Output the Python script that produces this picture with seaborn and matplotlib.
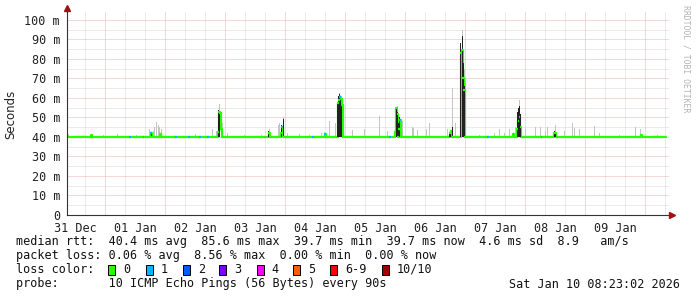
import matplotlib
matplotlib.use("Agg")
import matplotlib.pyplot as plt
import seaborn as sns
import pandas as pd
from matplotlib.patches import Rectangle

# ---------------- data (hours since 31 Dec 00:00, values in ms) ----------------
day_labels = ["31 Dec", "01 Jan", "02 Jan", "03 Jan", "04 Jan",
              "05 Jan", "06 Jan", "07 Jan", "08 Jan", "09 Jan"]

# median rtt (step series)
med_t = [8.8, 18.4, 18.8, 42.4, 42.8, 46.0, 46.4, 69.2, 69.6, 70.0, 70.4, 70.8,
         89.6, 90.0, 94.4, 94.8, 95.2, 112.0, 112.4, 117.2, 117.6, 118.0, 118.4,
         118.8, 119.2, 140.0, 140.4, 140.8, 141.2, 141.6, 142.0, 142.4, 162.0,
         162.4, 162.8, 166.4, 166.8, 167.2, 167.6, 168.0, 187.2, 187.6, 188.8,
         189.2, 189.6, 190.0, 190.4, 203.6, 204.0, 204.4, 238.4, 238.8, 248.4]
med_v = [40.0, 40.8, 40.0, 41.8, 40.0, 41.3, 40.0, 42.5, 53.0, 52.5, 44.0, 40.0,
         42.0, 40.0, 42.0, 45.0, 40.0, 41.5, 40.0, 57.6, 59.0, 60.7, 59.5,
         56.4, 40.0, 42.7, 55.0, 52.0, 40.0, 44.0, 48.7, 40.0, 42.0,
         43.0, 40.0, 83.0, 84.5, 70.0, 64.0, 40.0, 41.5, 40.0, 44.0,
         48.0, 50.4, 45.0, 40.0, 42.0, 42.0, 40.0, 41.0, 40.0, 40.0]

# median points with 1/10 packet loss (blue)
loss1_t = [18.4, 34.0, 39.2, 42.4, 52.4, 57.6, 62.0, 65.2, 94.8, 107.2, 112.0,
           118.0, 138.0, 142.0, 177.2, 187.2, 189.6, 198.4]
loss1_v = [40.0, 40.0, 40.0, 41.8, 40.0, 40.0, 40.0, 40.0, 45.0, 40.0, 41.5,
           60.7, 40.0, 48.7, 40.0, 41.5, 50.4, 40.0]

# light smoke (outer ping spread): top value
smoke_t = [9.2, 23.2, 29.2, 36.8, 42.0, 43.2, 44.0, 44.8, 45.6, 46.0, 46.8,
           60.4, 67.2, 68.8, 70.0, 71.2, 73.2, 80.0, 86.8, 90.0, 93.2, 94.0,
           95.2, 97.2, 102.0, 106.0, 110.8, 114.0, 116.4, 118.0, 123.2, 128.0,
           134.0, 137.2, 141.2, 143.2, 146.8, 147.6, 149.2, 152.4, 154.0,
           160.8, 162.8, 164.4, 166.8, 167.2, 167.6, 168.0, 168.4, 174.0,
           180.0, 182.0, 184.0, 186.0, 188.0, 189.6, 192.0, 196.0, 198.0,
           200.0, 201.2, 204.0, 208.0, 210.8, 212.0, 214.0, 220.0, 222.0,
           230.0, 236.4, 238.4, 244.8]
smoke_hi = [41.5, 41.0, 41.5, 41.0, 44.0, 43.0, 45.0, 47.5, 46.0, 45.0, 44.0,
            41.5, 44.0, 43.0, 57.0, 47.0, 42.0, 41.0, 41.0, 44.0, 46.0, 47.0,
            50.0, 42.0, 41.5, 41.0, 42.0, 48.0, 47.0, 62.5, 43.5, 44.0,
            51.0, 43.0, 56.0, 48.0, 45.0, 44.5, 43.5, 44.0, 47.0,
            44.0, 65.0, 47.0, 95.0, 94.0, 80.0, 75.0, 70.0, 41.0,
            42.0, 44.0, 42.0, 44.0, 45.0, 59.0, 44.0, 45.0, 45.0,
            43.0, 45.0, 46.0, 43.0, 47.0, 44.5, 44.0, 45.5, 42.0,
            41.0, 45.0, 44.0, 41.0]

# dark smoke (inner ping spread): top value
dark_t = [18.4, 42.4, 69.6, 70.0, 89.6, 94.8, 95.2, 117.2, 117.6, 118.0, 118.4,
          118.8, 140.4, 140.8, 141.6, 142.0, 162.0, 162.4, 162.8, 166.4, 166.8,
          167.2, 167.6, 168.0, 188.8, 189.2, 189.6, 190.0, 203.6, 204.0]
dark_hi = [41.5, 42.5, 54.0, 53.0, 43.0, 46.0, 49.0, 58.0, 61.0, 62.0, 61.0,
           57.0, 55.0, 53.0, 47.0, 50.0, 42.0, 43.0, 45.0, 88.0, 92.0,
           85.0, 78.0, 66.0, 53.0, 55.0, 56.0, 52.0, 43.0, 42.0]
baseline = 40.0

loss_labels = ["0", "1", "2", "3", "4", "5", "6-9", "10/10"]
loss_colors = ["#26ff00", "#00b8ff", "#0059ff", "#7e00ff", "#ff00ff",
               "#ff5e00", "#ff0000", "#a10000"]

stats_rtt = ["40.4 ms avg", "85.6 ms max", "39.7 ms min", "39.7 ms now",
             "4.6 ms sd", "8.9", "am/s"]
stats_loss = ["0.06 % avg", "8.56 % max", "0.00 % min", "0.00 % now"]
probe_text = "10 ICMP Echo Pings (56 Bytes) every 90s"
stamp_text = "Sat Jan 10 08:23:02 2026"

# ---------------- figure ----------------
sns.set_style("white")
plt.rcParams["font.family"] = ["DejaVu Sans Mono", "DejaVu Sans"]
W, H = 697, 297
fig = plt.figure(figsize=(W / 100, H / 100), dpi=100)
fig.patch.set_facecolor("white")
L, R, T, B = 67, 669, 12, 215
ax = fig.add_axes([L / W, 1 - B / H, (R - L) / W, (B - T) / H])
ax.set_facecolor("white")

xmin, xmax = 8.8, 249.6
ax.set_xlim(xmin, xmax)
ax.set_ylim(0, 104.1)

# grid
grid_grey = "#d6d6d6"
grid_red = "#e9b4b4"
dot = (0, (1, 1))
for h in range(0, 256, 8):
    if xmin < h < xmax:
        col = grid_red if h % 24 == 0 else grid_grey
        ax.axvline(h, color=col, lw=0.72, ls=dot, zorder=0)
for v in range(5, 105, 5):
    col = grid_red if v % 10 == 0 else grid_grey
    ax.axhline(v, color=col, lw=0.72, ls=dot, zorder=0)

# smoke
w = 0.4
ax.bar(smoke_t, [h - baseline for h in smoke_hi], bottom=baseline, width=w,
       color="#c4c4c4", linewidth=0, zorder=2)
ax.bar(dark_t, [h - baseline for h in dark_hi], bottom=baseline, width=w,
       color="#222222", linewidth=0, zorder=4)

# median line
df = pd.DataFrame({"t": med_t, "v": med_v})
sns.lineplot(data=df, x="t", y="v", ax=ax, drawstyle="steps-post",
             color=loss_colors[0], lw=1.6, zorder=3, legend=False)
ax.hlines(med_v[:-1], [t - 0.2 for t in med_t[:-1]], [t + 0.4 for t in med_t[:-1]],
          color=loss_colors[0], lw=1.6, zorder=5)
ax.hlines(loss1_v, [t - 0.2 for t in loss1_t], [t + 0.4 for t in loss1_t],
          color=loss_colors[1], lw=1.6, zorder=6)

# axes
for s in ["top", "right"]:
    ax.spines[s].set_visible(False)
for s in ["left", "bottom"]:
    ax.spines[s].set_color("#333333")
    ax.spines[s].set_linewidth(0.8)
    ax.spines[s].set_zorder(7)
ax.plot([0], [1 + 4 / (B - T)], marker="^", color="#a01010", markersize=4,
        transform=ax.transAxes, clip_on=False, zorder=8)
ax.plot([1 + 3 / (R - L)], [0], marker=">", color="#a01010", markersize=4,
        transform=ax.transAxes, clip_on=False, zorder=8)

fs = 8.49
ax.set_yticks(list(range(0, 101, 10)))
ax.set_yticklabels(["0"] + [f"{v} m" for v in range(10, 101, 10)])
ax.set_xticks([12 + 24 * i for i in range(len(day_labels))])
ax.set_xticklabels(day_labels)
ax.tick_params(axis="y", length=0, pad=5, labelsize=fs, colors="#222222")
ax.tick_params(axis="x", length=0, pad=5, labelsize=fs, colors="#222222")
ax.set_xlabel("")
ax.set_ylabel("")

fig.text(11 / W, 1 - 114 / H, "Seconds", rotation=90, ha="center", va="center",
         fontsize=fs, family="DejaVu Sans", color="#222222")
fig.text(686 / W, 1 - 5 / H, "RRDTOOL / TOBI OETIKER", rotation=270, ha="center",
         va="top", fontsize=5.9, color="#b4b4b4")

# ---------------- legend / stats ----------------
def ftext(x, y, s, ha="left"):
    fig.text(x / W, 1 - y / H, s, ha=ha, va="center", fontsize=fs,
             color="#111111")

y1, y2, y3, y4 = 241, 255.5, 269.5, 284
line1 = "median rtt:  " + "  ".join(stats_rtt[:-1]) + "   " + stats_rtt[-1]
line2 = "packet loss: " + "  ".join(stats_loss)
ftext(16, y1, line1)
ftext(16, y2, line2)
ftext(16, y3, "loss color:")
box_x = [108.3, 145.7, 182.7, 219.3, 256.7, 293.3, 330.0, 381.7]
for bx, lab, col in zip(box_x, loss_labels, loss_colors):
    fig.patches.append(Rectangle((bx / W, 1 - (y3 + 5) / H), 7 / W, 10 / H,
                                 transform=fig.transFigure, facecolor=col,
                                 edgecolor="black", linewidth=0.7))
    ftext(bx + 15, y3, lab)
ftext(16, y4, "probe:       " + probe_text)
ftext(680, y4, stamp_text, ha="right")

fig.savefig("out.png", dpi=100, facecolor="white")
